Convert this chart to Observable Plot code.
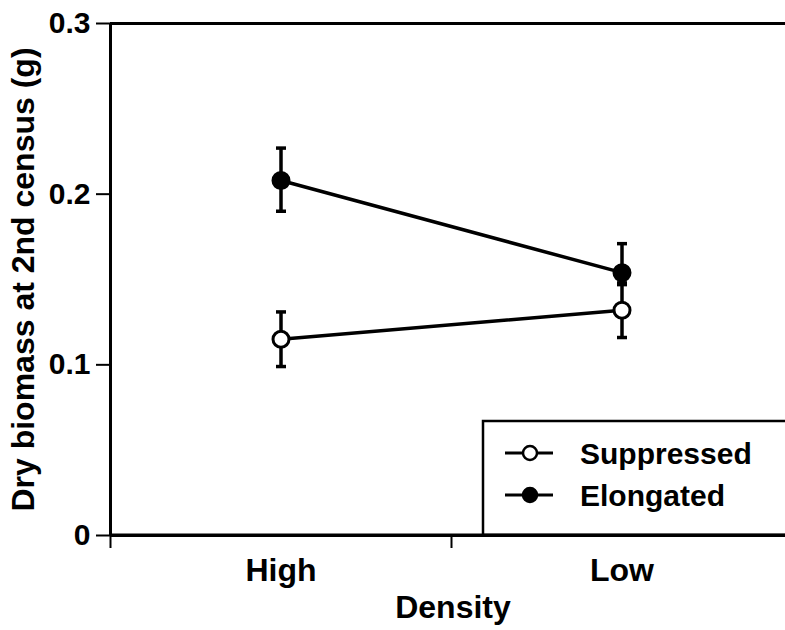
<!DOCTYPE html>
<html>
<head>
<meta charset="utf-8">
<script src="https://cdn.jsdelivr.net/npm/d3@7"></script>
<script src="https://cdn.jsdelivr.net/npm/@observablehq/plot@0.6"></script>
<style>
  html, body { margin: 0; padding: 0; background: #fff; }
  #chart svg { font-family: "Liberation Sans", Arial, Helvetica, sans-serif; display: block; }
</style>
</head>
<body>
<div id="chart"></div>
<script>
// ---- data ----
const categories = ["High", "Low"];
const seriesNames = ["Suppressed", "Elongated"];
const meanSuppressed = [0.115, 0.132];
const loSuppressed   = [0.099, 0.116];
const hiSuppressed   = [0.131, 0.147];
const meanElongated  = [0.208, 0.154];
const loElongated    = [0.190, 0.148];
const hiElongated    = [0.227, 0.171];
const yTicks = [0, 0.1, 0.2, 0.3];
const xLabel = "Density";
const yLabel = "Dry biomass at 2nd census (g)";

const rows = [];
categories.forEach((c, i) => {
  rows.push({series: "Suppressed", density: c, mean: meanSuppressed[i], lo: loSuppressed[i], hi: hiSuppressed[i]});
});
categories.forEach((c, i) => {
  rows.push({series: "Elongated", density: c, mean: meanElongated[i], lo: loElongated[i], hi: hiElongated[i]});
});
const xPos = d => categories.indexOf(d.density) + 0.5;
const bandEdges = d3.range(categories.length + 1);
const bandCenters = categories.map((c, i) => i + 0.5);

const capSymbol = {draw(ctx) { ctx.moveTo(-5, 0); ctx.lineTo(5, 0); }};

const plot = Plot.plot({
  width: 785,
  height: 630,
  marginLeft: 110,
  marginRight: 0,
  marginTop: 23,
  marginBottom: 95,
  style: {fontFamily: "'Liberation Sans', Arial, Helvetica, sans-serif", background: "white", color: "black"},
  x: {type: "linear", domain: [0, categories.length], range: [110, 792]},
  y: {domain: [0, 0.3]},
  marks: [
    // frame lines
    Plot.ruleY([0], {stroke: "black", strokeWidth: 3}),
    Plot.ruleY([0.3], {stroke: "black", strokeWidth: 3}),
    Plot.ruleX([0], {stroke: "black", strokeWidth: 3}),
    // axes
    Plot.axisY({ticks: yTicks, tickSize: 14, tickPadding: 6, tickFormat: d => d === 0 ? "0" : d3.format(".1f")(d),
      fontSize: 30, fontWeight: "bold", strokeWidth: 2, label: null}),
    Plot.axisX({ticks: bandEdges, tickSize: 13, tickFormat: () => "", strokeWidth: 2, label: null}),
    Plot.axisX({ticks: bandCenters, tickSize: 0, tickPadding: 23, tickFormat: d => categories[Math.round(d - 0.5)],
      fontSize: 32, fontWeight: "bold", label: null}),
    Plot.text([xLabel], {frameAnchor: "bottom", lineAnchor: "top", dy: 60, dx: 5, fontSize: 32, fontWeight: "bold"}),
    Plot.text([yLabel], {frameAnchor: "left", textAnchor: "middle", rotate: -90, dx: -87, fontSize: 32, fontWeight: "bold"}),
    // error bars
    Plot.ruleX(rows, {x: xPos, y1: "lo", y2: "hi", stroke: "black", strokeWidth: 3.5}),
    Plot.dot(rows, {x: xPos, y: "lo", symbol: capSymbol, stroke: "black", strokeWidth: 3.5, fill: "none"}),
    Plot.dot(rows, {x: xPos, y: "hi", symbol: capSymbol, stroke: "black", strokeWidth: 3.5, fill: "none"}),
    // lines
    Plot.line(rows, {x: xPos, y: "mean", z: "series", stroke: "black", strokeWidth: 3.5}),
    // points
    Plot.dot(rows, {x: xPos, y: "mean", r: 8, stroke: "black", strokeWidth: 3,
      fill: d => d.series === "Elongated" ? "black" : "white"})
  ]
});
document.getElementById("chart").appendChild(plot);

// ---- legend box ----
const svg = d3.select(plot);
const lg = svg.append("g").attr("font-family", "'Liberation Sans', Arial, Helvetica, sans-serif");
lg.append("rect").attr("x", 483).attr("y", 421).attr("width", 320).attr("height", 114)
  .attr("fill", "white").attr("stroke", "black").attr("stroke-width", 2.5);
seriesNames.forEach((name, i) => {
  const yy = 453 + i * 42;
  lg.append("line").attr("x1", 505).attr("x2", 553).attr("y1", yy).attr("y2", yy)
    .attr("stroke", "black").attr("stroke-width", 3);
  lg.append("circle").attr("cx", 530).attr("cy", yy).attr("r", 7)
    .attr("fill", name === "Elongated" ? "black" : "white").attr("stroke", "black").attr("stroke-width", 2.5);
  lg.append("text").attr("x", 580).attr("y", yy + 10.5).attr("font-size", 30).attr("font-weight", "bold")
    .attr("text-anchor", "start").attr("fill", "black").text(name);
});
// redraw bottom axis line on top of legend box
const y0 = plot.scale("y").apply(0);
svg.append("line").attr("x1", 110).attr("x2", 785).attr("y1", y0).attr("y2", y0)
  .attr("stroke", "black").attr("stroke-width", 3);
</script>
</body>
</html>
